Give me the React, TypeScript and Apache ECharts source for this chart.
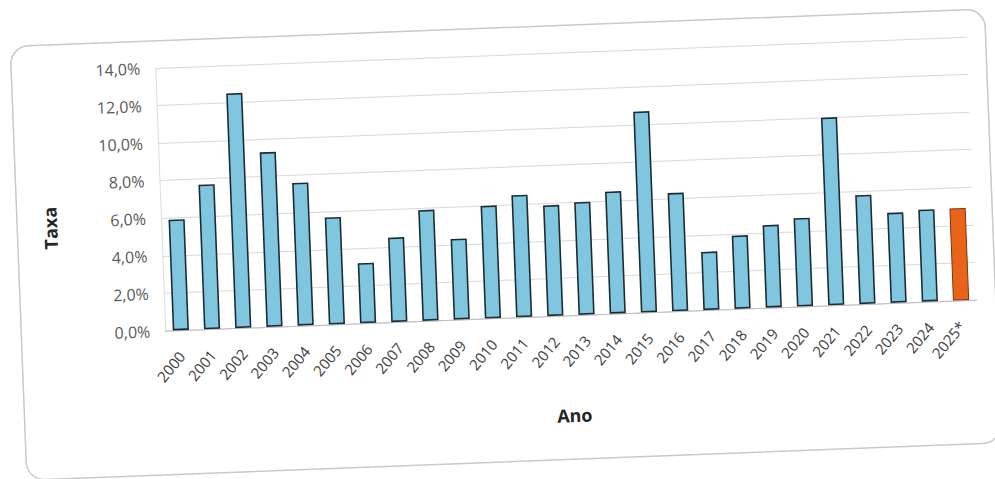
import React, { useEffect, useRef } from "react";
import * as echarts from "echarts";

const categories = [
  "2000", "2001", "2002", "2003", "2004", "2005", "2006", "2007", "2008",
  "2009", "2010", "2011", "2012", "2013", "2014", "2015", "2016", "2017",
  "2018", "2019", "2020", "2021", "2022", "2023", "2024", "2025*",
];
const taxa = [
  5.9, 7.7, 12.5, 9.3, 7.6, 5.7, 3.2, 4.5, 5.9, 4.3, 6.0, 6.5, 5.9, 6.0,
  6.5, 10.7, 6.3, 3.1, 3.9, 4.4, 4.7, 10.0, 5.8, 4.8, 4.9, 4.9,
];
const projectedCategory = "2025*";
const yTicks = { min: 0, max: 14, interval: 2 };
const yTitle = "Taxa";
const xTitle = "Ano";

export default function App() {
  const ref = useRef<HTMLDivElement>(null);

  useEffect(() => {
    if (!ref.current) return;
    const chart = echarts.init(ref.current, undefined, { renderer: "svg" });
    const font = "'Open Sans', 'Liberation Sans', sans-serif";
    chart.setOption({
      animation: false,
      backgroundColor: "#ffffff",
      textStyle: { fontFamily: font },
      grid: { left: 162, right: 21, top: 55, bottom: 161 },
      graphic: [
        {
          type: "rect",
          shape: { x: 18, y: 28, width: 975, height: 434, r: 18 },
          style: { fill: "none", stroke: "#c9c9c9", lineWidth: 1.5 },
          z: -1,
        },
        {
          type: "text",
          x: 51,
          y: 211,
          rotation: Math.PI / 2,
          style: {
            text: yTitle,
            fontFamily: font,
            fontSize: 18,
            fontWeight: "bold",
            fill: "#262626",
            align: "center",
            verticalAlign: "middle",
          },
        },
      ],
      xAxis: {
        type: "category",
        data: categories,
        name: xTitle,
        nameLocation: "middle",
        nameGap: 91,
        nameTextStyle: {
          fontFamily: font,
          fontSize: 18,
          fontWeight: "bold",
          color: "#262626",
        },
        axisLine: { show: true, lineStyle: { color: "#bdbdbd", width: 1 } },
        axisTick: { show: false },
        axisLabel: {
          interval: 0,
          rotate: 48,
          margin: 23,
          fontSize: 15,
          color: "#404040",
          fontFamily: font,
        },
      },
      yAxis: {
        type: "value",
        min: yTicks.min,
        max: yTicks.max,
        interval: yTicks.interval,
        axisLine: { show: true, lineStyle: { color: "#dcdcdc", width: 1 } },
        axisTick: { show: false },
        splitLine: { show: true, lineStyle: { color: "#d9d9d9", width: 1 } },
        axisLabel: {
          margin: 15,
          fontSize: 16,
          color: "#595959",
          fontFamily: font,
          formatter: (v: number) => v.toFixed(1).replace(".", ",") + "%",
        },
      },
      series: [
        {
          type: "bar",
          barWidth: "52%",
          data: categories.map((c, i) =>
            c === projectedCategory
              ? {
                  value: taxa[i],
                  itemStyle: {
                    color: "#ea6418",
                    borderColor: "#7a3412",
                    borderWidth: 1,
                  },
                }
              : taxa[i]
          ),
          itemStyle: {
            color: "#80c6de",
            borderColor: "#1c2c36",
            borderWidth: 1.6,
          },
        },
      ],
    });
    return () => chart.dispose();
  }, []);

  return (
    <div
      style={{
        position: "absolute",
        left: 0,
        top: 0,
        width: 995,
        height: 479,
        background: "#ffffff",
        transform: "rotate(-2.2deg)",
        transformOrigin: "50% 50%",
      }}
    >
      <div ref={ref} style={{ width: 995, height: 479 }} />
    </div>
  );
}
